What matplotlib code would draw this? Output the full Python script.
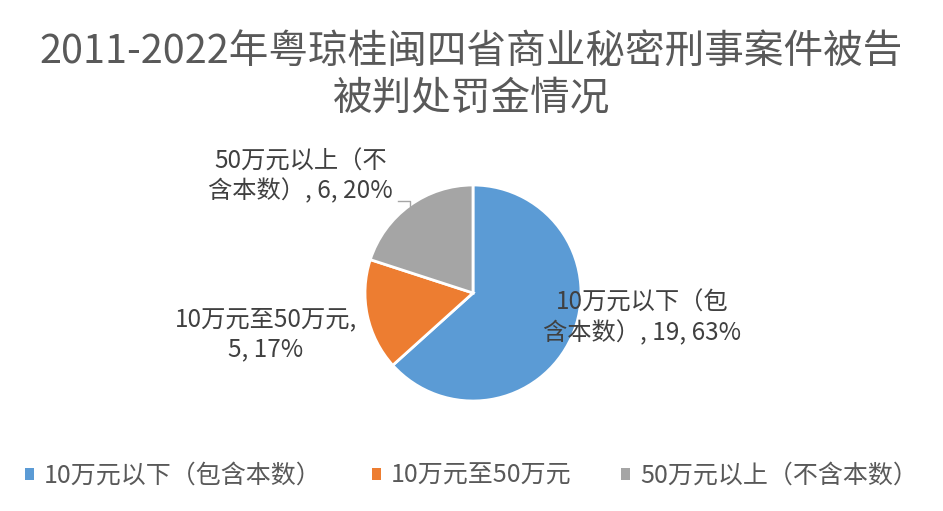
import matplotlib
matplotlib.use("Agg")
import matplotlib.pyplot as plt
from matplotlib.patches import Patch

plt.rcParams['font.family'] = ['Noto Sans CJK SC', 'DejaVu Sans']

# data
categories = ['10万元以下（包含本数）', '10万元至50万元', '50万元以上（不含本数）']
values = [19, 5, 6]
colors = ['#5B9BD5', '#ED7D31', '#A5A5A5']
label_texts = ['10万元以下（包\n含本数）, 19, 63%',
               '10万元至50万元,\n5, 17%',
               '50万元以上（不\n含本数）, 6, 20%']
title = '2011-2022年粤琼桂闽四省商业秘密刑事案件被告\n被判处罚金情况'

W, H = 943, 511
fig = plt.figure(figsize=(W / 100, H / 100), dpi=100)

# pie axes: center (473, 293) px, radius 108 px
cx, cy, r = 473, 293, 108
ax = fig.add_axes([(cx - r) / W, (H - cy - r) / H, 2 * r / W, 2 * r / H])
wedges, _ = ax.pie(values, colors=colors, startangle=90, counterclock=False,
                   radius=1.0, wedgeprops=dict(edgecolor='white', linewidth=2))
ax.set_xlim(-1, 1)
ax.set_ylim(-1, 1)
ax.set_aspect('equal')
ax.axis('off')

# data labels (positions in data coords, relative to pie radius)
label_pos = [(1.57, -0.23), (-1.92, -0.38), (-1.60, 1.08)]
for txt, (x, y) in zip(label_texts, label_pos):
    ax.text(x, y, txt, ha='center', va='center', fontsize=17.5, color='#404040',
            linespacing=1.2, clip_on=False)

# leader line for the gray label
ax.plot([(398 - cx) / r, (410 - cx) / r, (410 - cx) / r],
        [(cy - 201) / r, (cy - 201) / r, (cy - 206) / r],
        color='#A6A6A6', lw=1, clip_on=False)

fig.text(0.5, (H - 75) / H, title, ha='center', va='center', fontsize=28.5,
         color='#595959', linespacing=1.2)

handles = [Patch(facecolor=c, edgecolor='none') for c in colors]
fig.legend(handles, categories, loc='center', bbox_to_anchor=(0.5, (H - 476) / H),
           ncol=3, frameon=False, fontsize=18, labelcolor='#595959',
           handlelength=0.35, handleheight=0.35, handletextpad=0.4,
           columnspacing=2.0)

fig.savefig('out.png', dpi=100)
